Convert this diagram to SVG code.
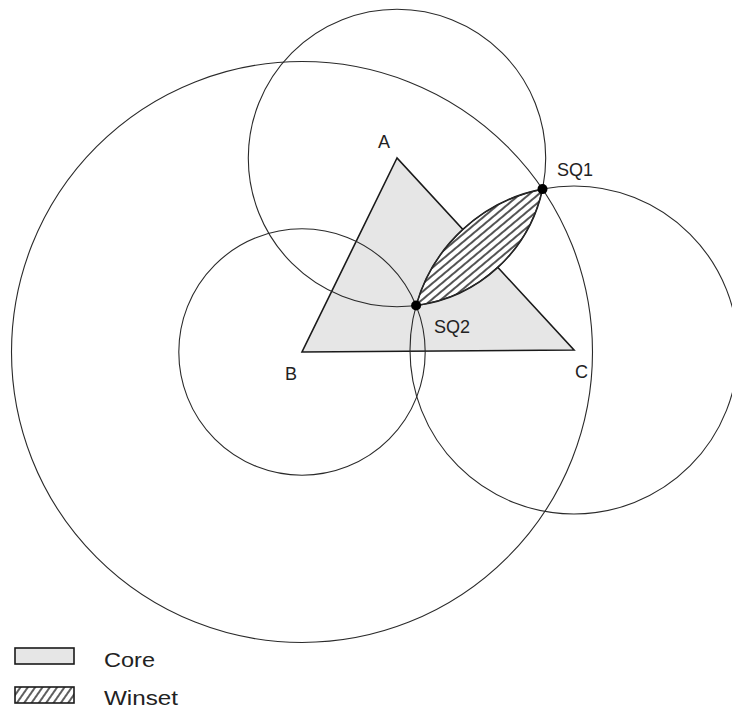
<svg xmlns="http://www.w3.org/2000/svg" width="732" height="713" viewBox="0 0 732 713">
<defs>
<style>
.circ{fill:none;stroke:#2a2a2a;stroke-width:1.1}
.core{fill:#e6e6e6;stroke:#1a1a1a;stroke-width:1.6;stroke-linejoin:miter}
.win{fill:url(#hatch);stroke:#1a1a1a;stroke-width:1.6}
.lbl{font-family:"Liberation Sans",Arial,sans-serif;font-size:18px;fill:#222}
.leg{font-family:"Liberation Sans",Arial,sans-serif;font-size:21px;fill:#222}
.dot{fill:#000}
</style>
<pattern id="hatch" patternUnits="userSpaceOnUse" width="6" height="6" patternTransform="rotate(-40)">
<rect width="6" height="6" fill="#fff"/>
<line x1="0" y1="3" x2="6" y2="3" stroke="#1a1a1a" stroke-width="1.5"/>
</pattern>
<pattern id="hatchLeg" patternUnits="userSpaceOnUse" width="6" height="6" patternTransform="rotate(-55)">
<rect width="6" height="6" fill="#fff"/>
<line x1="0" y1="3" x2="6" y2="3" stroke="#1a1a1a" stroke-width="1.4"/>
</pattern>
</defs>
<rect width="732" height="713" fill="#fff"/>
<g id="core">
<polygon class="core" points="397,158 302,352 574,350"/>
</g>
<g id="winset">
<path class="win" d="M 542.5 189.1 A 164 164 0 0 0 416.1 305.5 A 148.7 148.7 0 0 0 542.5 189.1 Z"/>
</g>
<g id="connectors">
<circle id="circle-B-large" class="circ" cx="302" cy="352" r="290.5"/>
<circle id="circle-A" class="circ" cx="397" cy="158" r="148.7"/>
<circle id="circle-B-small" class="circ" cx="302" cy="352" r="123.2"/>
<circle id="circle-C" class="circ" cx="574" cy="350" r="164"/>
</g>
<g id="SQ1">
<circle class="dot" cx="542.5" cy="189.1" r="5"/>
<text class="lbl" x="557" y="176">SQ1</text>
</g>
<g id="SQ2">
<circle class="dot" cx="416.1" cy="305.5" r="5"/>
<text class="lbl" x="434" y="333">SQ2</text>
</g>
<g id="A"><text class="lbl" x="378" y="148">A</text></g>
<g id="B"><text class="lbl" x="285" y="380">B</text></g>
<g id="C"><text class="lbl" x="575" y="378">C</text></g>
<g id="legend">
<rect class="core" x="15" y="648" width="59" height="16"/>
<text class="leg" x="104" y="667" textLength="51" lengthAdjust="spacingAndGlyphs">Core</text>
<rect x="15" y="687" width="59" height="16" fill="url(#hatchLeg)" stroke="#1a1a1a" stroke-width="1.6"/>
<text class="leg" x="104" y="705" textLength="74" lengthAdjust="spacingAndGlyphs">Winset</text>
</g>
</svg>
